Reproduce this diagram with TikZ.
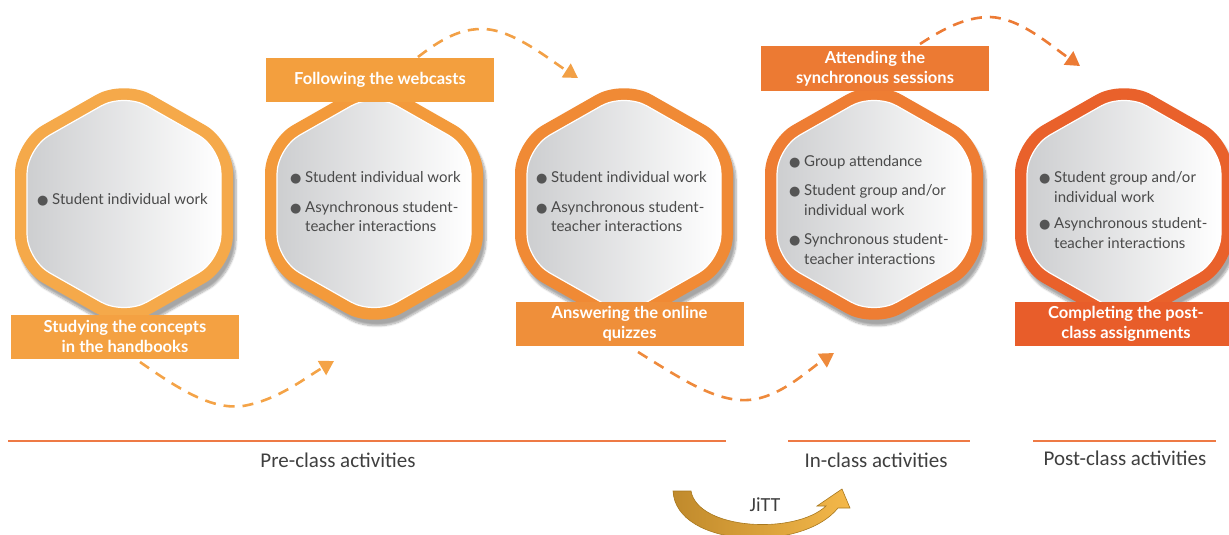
\documentclass[tikz,border=0pt]{standalone}
\usepackage{fontspec}
\setmainfont{Lato}
\newfontfamily\capfont{Carlito}
\newfontfamily\bulfont{DejaVu Sans}
\usetikzlibrary{arrows.meta,shadows.blur}

\definecolor{hA}{HTML}{F5A94A}
\definecolor{hB}{HTML}{F39A3B}
\definecolor{hC}{HTML}{F08A35}
\definecolor{hD}{HTML}{EE7D33}
\definecolor{hE}{HTML}{E9612B}
\definecolor{lA}{HTML}{F4A142}
\definecolor{lB}{HTML}{F39F3E}
\definecolor{lC}{HTML}{EF8F3A}
\definecolor{lD}{HTML}{EC7A33}
\definecolor{lE}{HTML}{E85D2A}
\definecolor{dA}{HTML}{F4A347}
\definecolor{dB}{HTML}{F2A046}
\definecolor{dC}{HTML}{EE8A3C}
\definecolor{dD}{HTML}{EC7B35}
\definecolor{txtgray}{HTML}{4A4A4A}
\definecolor{bulgray}{HTML}{555555}
\definecolor{ruleorange}{HTML}{EE7A45}
\definecolor{cattext}{HTML}{3F3F3F}
\definecolor{goldL}{HTML}{C08A2C}
\definecolor{goldR}{HTML}{F4B84A}
\definecolor{goldE}{HTML}{A8781E}
\definecolor{innergray}{HTML}{CDCED0}

\newcommand\hb{\makebox[15pt][l]{\textcolor{bulgray}{\bulfont\fontsize{13}{13}\selectfont ●}}}
\newcommand\hh{\hspace*{15pt}}

\newcommand\myhex[3]{%
  \begin{scope}[shift={(#1,#2)}]
    \path[fill=#3, rounded corners=32pt,
      blur shadow={shadow xshift=3pt, shadow yshift=-6pt, shadow blur steps=8, shadow opacity=35}]
      (-109,0) -- (-109,-63) -- (0,-125) -- (109,-63) -- (109,63) -- (0,125) -- (-109,63) -- cycle;
    \path[left color=innergray, right color=white, draw=white, line width=1.2pt, rounded corners=26pt]
      (-97,0) -- (-97,-56) -- (0,-111) -- (97,-56) -- (97,56) -- (0,111) -- (-97,56) -- cycle;
  \end{scope}}

\tikzset{
  hextext/.style={anchor=west, text=txtgray, font=\fontsize{15}{19.5}\selectfont, align=left, inner sep=0pt},
  labbox/.style={fill=#1, text=white, font=\bfseries\fontsize{16.5}{20}\selectfont, align=center,
    minimum width=228pt, minimum height=44pt, inner sep=0pt},
  flow/.style={line width=2.6pt, dash pattern=on 11pt off 8pt,
    -{Triangle[width=16pt,length=14pt]}},
  catrule/.style={draw=ruleorange, line width=1.1pt},
  cattxt/.style={text=cattext, font=\capfont\fontsize{21}{23}\selectfont, inner sep=0pt},
}

\begin{document}
\begin{tikzpicture}[x=1pt,y=-1pt]
\useasboundingbox (0,0) rectangle (1229,535);

% hexagons
\myhex{124}{204}{hA}
\myhex{374}{204}{hB}
\myhex{624}{204}{hC}
\myhex{874}{204}{hD}
\myhex{1124}{204}{hE}

% hexagon texts
\node[hextext] (t1) at (37,200) {\hb Student individual work};
\node[hextext] (t2) at (290,202) {\hb Student individual work\\[10pt]\hb Asynchronous student-\\\hh teacher interactions};
\node[hextext] (t3) at (536,202) {\hb Student individual work\\[10pt]\hb Asynchronous student-\\\hh teacher interactions};
\node[hextext] (t4) at (789,210) {\hb Group attendance\\[10pt]\hb Student group and/or\\\hh individual work\\[10pt]\hb Synchronous student-\\\hh teacher interactions};
\node[hextext] (t5) at (1039,210) {\hb Student group and/or\\\hh individual work\\[7pt]\hb Asynchronous student-\\\hh teacher interactions};

% labels
\node[labbox=lA] (l1) at (125,336.5) {Studying the concepts\\in the handbooks};
\node[labbox=lB] (l2) at (380,80) {Following the webcasts};
\node[labbox=lC] (l3) at (629.5,324) {Answering the online\\quizzes};
\node[labbox=lD] (l4) at (875,68.5) {Attending the\\synchronous sessions};
\node[labbox=lE, minimum width=222pt] (l5) at (1126,324) {Completing the post-\\class assignments};

% dashed flow arrows
\coordinate (a1s) at (140,362);
\coordinate (a1e) at (334,361);
\draw[flow, draw=dA] (a1s) .. controls (180,390) and (212,410) .. (243,406) .. controls (278,400) and (305,378) .. (a1e);
\coordinate (a2s) at (418,57);
\coordinate (a2e) at (578,78);
\draw[flow, draw=dB] (a2s) .. controls (440,40) and (460,28) .. (485,29) .. controls (515,31) and (550,60) .. (a2e);
\coordinate (a3s) at (638,352);
\coordinate (a3e) at (834,353);
\draw[flow, draw=dC] (a3s) .. controls (680,378) and (715,402) .. (748,400) .. controls (780,398) and (808,370) .. (a3e);
\coordinate (a4s) at (920,44);
\coordinate (a4e) at (1080,66);
\draw[flow, draw=dD] (a4s) .. controls (943,29) and (965,17) .. (990,17) .. controls (1020,18) and (1050,45) .. (a4e);

% category rules and labels
\coordinate (r1a) at (8,441);   \coordinate (r1b) at (726,441);
\coordinate (r2a) at (788,441); \coordinate (r2b) at (970,441);
\coordinate (r3a) at (1033,441);\coordinate (r3b) at (1216,441);
\draw[catrule] (r1a) -- (r1b);
\draw[catrule] (r2a) -- (r2b);
\draw[catrule] (r3a) -- (r3b);
\node[cattxt] (c1) at (338,460) {Pre-class activities};
\node[cattxt] (c2) at (876,460) {In-class activities};
\node[cattxt] (c3) at (1125,458) {Post-class activities};

% JiTT curved arrow
\path[left color=goldL, right color=goldR, draw=goldE, line width=0.6pt]
  (673,491) .. controls (676,548) and (802,553) .. (838,508)
  -- (850,508) -- (842,489) -- (817,506) -- (826,506)
  .. controls (795,535) and (698,530) .. (691,491) -- cycle;
\node[cattxt, font=\capfont\fontsize{20}{22}\selectfont] (jitt) at (765,505) {JiTT};
\end{tikzpicture}
\end{document}
